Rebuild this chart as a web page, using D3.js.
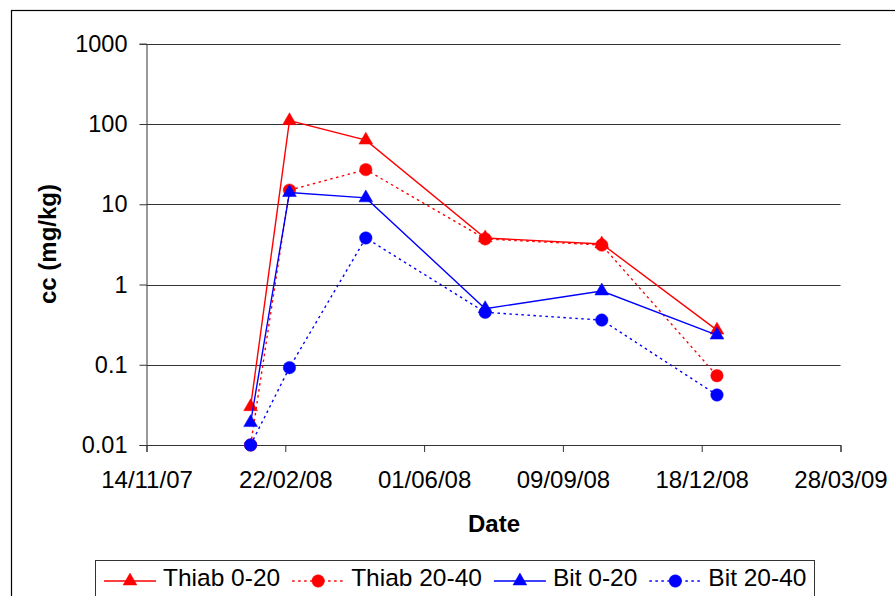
<!DOCTYPE html>
<html>
<head>
<meta charset="utf-8">
<script src="https://cdn.jsdelivr.net/npm/d3@7"></script>
<style>
  html, body { margin: 0; padding: 0; background: #fff; }
  svg { display: block; font-family: Arial, "Liberation Sans", sans-serif; }
</style>
</head>
<body>
<svg id="chart" width="895" height="596"></svg>
<script>
// ---- data ----
const dates = ["28/01/08", "25/02/08", "20/04/08", "15/07/08", "07/10/08", "29/12/08"];
const thiab020 = [0.03, 110, 63, 3.8, 3.2, 0.27];
const thiab2040 = [0.01, 15, 27, 3.7, 3.1, 0.073];
const bit020 = [0.019, 14, 12, 0.5, 0.83, 0.234];
const bit2040 = [0.01, 0.092, 3.8, 0.45, 0.36, 0.042];
const seriesNames = ["Thiab 0-20", "Thiab 20-40", "Bit 0-20", "Bit 20-40"];
const xTickLabels = ["14/11/07", "22/02/08", "01/06/08", "09/09/08", "18/12/08", "28/03/09"];
const yTickValues = [0.01, 0.1, 1, 10, 100, 1000];
const yTickLabels = ["0.01", "0.1", "1", "10", "100", "1000"];

(function () {
const parse = d3.timeParse("%d/%m/%y");
const seriesData = [thiab020, thiab2040, bit020, bit2040];
const styles = [
  { color: "#FF0000", dash: null, marker: "tri" },
  { color: "#FF0000", dash: "2.5,3.5", marker: "circ" },
  { color: "#0000FF", dash: null, marker: "tri" },
  { color: "#0000FF", dash: "2.5,3.5", marker: "circ" }
];

const svg = d3.select("#chart");

// outer frame (extends beyond image on right/bottom)
svg.append("rect").attr("x", 11.5).attr("y", 10.5).attr("width", 1000).attr("height", 700)
  .attr("fill", "none").attr("stroke", "#000").attr("stroke-width", 1.2);

const pLeft = 146.5, pRight = 840.5, pTop = 43.75, pBottom = 445;
const xTicks = xTickLabels.map(parse);
const x = d3.scaleTime().domain([xTicks[0], xTicks[xTicks.length - 1]]).range([pLeft, pRight]);
const y = d3.scaleLog().domain([0.01, 1000]).range([pBottom, pTop]);

// gridlines
svg.append("g").selectAll("line").data(yTickValues.slice(1)).join("line")
  .attr("x1", pLeft).attr("x2", pRight)
  .attr("y1", d => Math.round(y(d)) + 0.5).attr("y2", d => Math.round(y(d)) + 0.5)
  .attr("stroke", "#333").attr("stroke-width", 1);

// y axis
const yAxis = d3.axisLeft(y).tickValues(yTickValues)
  .tickFormat((d, i) => yTickLabels[i]).tickSize(7).tickPadding(12);
const gy = svg.append("g").attr("transform", `translate(${pLeft},0)`).call(yAxis);
gy.select(".domain").attr("stroke", "#333");
gy.selectAll(".tick line").attr("stroke", "#333");
gy.selectAll(".tick text").attr("font-size", "23.5px").attr("fill", "#000")
  .attr("font-family", "Arial, 'Liberation Sans', sans-serif");

// x axis
const xAxis = d3.axisBottom(x).tickValues(xTicks)
  .tickFormat((d, i) => xTickLabels[i]).tickSize(7).tickPadding(19);
const gx = svg.append("g").attr("transform", `translate(0,${pBottom})`).call(xAxis);
gx.select(".domain").attr("stroke", "#333");
gx.selectAll(".tick line").attr("stroke", "#333");
gx.selectAll(".tick text").attr("font-size", "24px").attr("fill", "#000")
  .attr("font-family", "Arial, 'Liberation Sans', sans-serif");

// axis titles
svg.append("text").attr("x", 494).attr("y", 532).attr("text-anchor", "middle")
  .attr("font-size", "24px").attr("font-weight", "bold").text("Date");
svg.append("text").attr("transform", "translate(56,244) rotate(-90)").attr("text-anchor", "middle")
  .attr("font-size", "24px").attr("font-weight", "bold").text("cc (mg/kg)");

const tri = d3.symbol().type(d3.symbolTriangle).size(82);
const circ = d3.symbol().type(d3.symbolCircle).size(122);

function drawMarker(g, type, color, cx, cy) {
  g.append("path").attr("d", type === "tri" ? tri() : circ())
    .attr("transform", `translate(${cx},${cy})`)
    .attr("fill", color).attr("stroke", color).attr("stroke-width", 0.5);
}

const line = d3.line().x(d => x(d.date)).y(d => y(d.v));

seriesData.forEach((vals, si) => {
  const st = styles[si];
  const pts = vals.map((v, i) => ({ date: parse(dates[i]), v }));
  const g = svg.append("g");
  g.append("path").datum(pts).attr("d", line)
    .attr("fill", "none").attr("stroke", st.color).attr("stroke-width", 1.4)
    .attr("stroke-dasharray", st.dash);
  pts.forEach(p => drawMarker(g, st.marker, st.color, x(p.date), y(p.v)));
});

// legend
svg.append("rect").attr("x", 95.5).attr("y", 560.5).attr("width", 719).attr("height", 60)
  .attr("fill", "#fff").attr("stroke", "#333").attr("stroke-width", 1);
let lx = 104;
const ly = 581;
seriesNames.forEach((name, si) => {
  const st = styles[si];
  const g = svg.append("g");
  g.append("line").attr("x1", lx).attr("x2", lx + 52).attr("y1", ly).attr("y2", ly)
    .attr("stroke", st.color).attr("stroke-width", 1.4).attr("stroke-dasharray", st.dash);
  drawMarker(g, st.marker, st.color, lx + 26, ly);
  const t = g.append("text").attr("x", lx + 59).attr("y", 586)
    .attr("font-size", "24.5px").attr("fill", "#000").text(name);
  lx = lx + 59 + t.node().getComputedTextLength() + 12;
});
})();
</script>
</body>
</html>
